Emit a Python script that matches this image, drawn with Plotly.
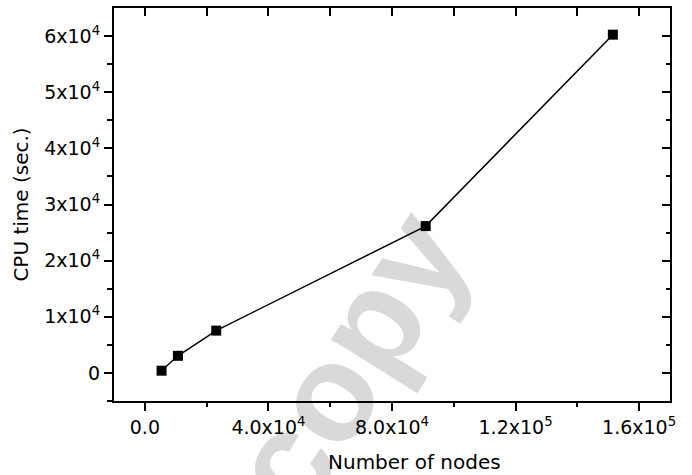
import numpy as np
import plotly.graph_objects as go

# Data
nodes = [5400, 10700, 23100, 90900, 151500]
cpu_time = [400, 3050, 7540, 26150, 60250]

x_tick_vals = [0, 40000, 80000, 120000, 160000]
x_tick_text = ["0.0", "4.0x10<sup>4</sup>", "8.0x10<sup>4</sup>", "1.2x10<sup>5</sup>", "1.6x10<sup>5</sup>"]
y_tick_vals = [0, 10000, 20000, 30000, 40000, 50000, 60000]
y_tick_text = ["0", "1x10<sup>4</sup>", "2x10<sup>4</sup>", "3x10<sup>4</sup>", "4x10<sup>4</sup>", "5x10<sup>4</sup>", "6x10<sup>4</sup>"]

x_title = "Number of nodes"
y_title = "CPU time (sec.)"
watermark = "copy"

x_range = [-10000, 170000]
y_range = [-5000, 65000]
x_minor = list(np.arange(20000, 170000, 40000))
y_minor = list(np.arange(-5000, 65000, 10000))

FONT = "DejaVu Sans, Arial, sans-serif"
WM_FONT = "Liberation Sans, Arial, sans-serif"

fig = go.Figure()
fig.add_trace(go.Scatter(
    x=nodes, y=cpu_time, mode="lines+markers",
    line=dict(color="black", width=1.5),
    marker=dict(symbol="square", size=10, color="black"),
    showlegend=False, hoverinfo="skip",
))
# invisible traces for mirrored inner ticks
fig.add_trace(go.Scatter(x=[None], y=[None], xaxis="x2", yaxis="y", showlegend=False))
fig.add_trace(go.Scatter(x=[None], y=[None], xaxis="x", yaxis="y2", showlegend=False))

fig.update_layout(
    width=692, height=475,
    margin=dict(l=114, r=22, t=8, b=74),
    paper_bgcolor="white", plot_bgcolor="rgba(0,0,0,0)",
    font=dict(family=FONT, size=19, color="black"),
    xaxis=dict(
        range=x_range, tickmode="array", tickvals=x_tick_vals, ticktext=x_tick_text,
        ticks="outside", ticklen=8, tickwidth=1.5, tickcolor="black",
        minor=dict(tickvals=x_minor, ticks="outside", ticklen=4, tickwidth=1.5, tickcolor="black"),
        showline=True, linecolor="black", linewidth=2, mirror=True,
        showgrid=False, zeroline=False, automargin=False,
        tickfont=dict(size=19),
    ),
    xaxis2=dict(
        range=x_range, overlaying="x", side="top", anchor="y",
        tickmode="array", tickvals=x_tick_vals, showticklabels=False,
        ticks="inside", ticklen=8, tickwidth=1.5, tickcolor="black",
        minor=dict(tickvals=x_minor, ticks="inside", ticklen=8, tickwidth=1.5, tickcolor="black"),
        showline=False, showgrid=False, zeroline=False, automargin=False,
    ),
    yaxis=dict(
        range=y_range, tickmode="array", tickvals=y_tick_vals, ticktext=y_tick_text,
        ticks="outside", ticklen=8, tickwidth=1.5, tickcolor="black",
        minor=dict(tickvals=y_minor, ticks="outside", ticklen=5, tickwidth=1.5, tickcolor="black"),
        showline=True, linecolor="black", linewidth=2, mirror=True,
        showgrid=False, zeroline=False, automargin=False,
        title=dict(text=y_title, font=dict(size=20), standoff=10),
        tickfont=dict(size=19),
    ),
    yaxis2=dict(
        range=y_range, overlaying="y", side="right", anchor="x",
        tickmode="array", tickvals=y_tick_vals, showticklabels=False,
        ticks="inside", ticklen=8, tickwidth=1.5, tickcolor="black",
        minor=dict(tickvals=y_minor, ticks="inside", ticklen=4, tickwidth=1.5, tickcolor="black"),
        showline=False, showgrid=False, zeroline=False, automargin=False,
    ),
)

# x-axis title (sits right of centre in the reference)
fig.add_annotation(
    text=x_title, xref="paper", yref="paper", x=0.54, y=-0.155,
    xanchor="center", yanchor="middle", showarrow=False, font=dict(size=20),
)

# watermark behind the data
fig.add_shape(
    type="rect", xref="paper", yref="paper",
    x0=0.30, x1=0.50, y0=0.02, y1=0.22, layer="below",
    line=dict(width=0), fillcolor="rgba(0,0,0,0)",
    label=dict(text=watermark, textposition="middle center", textangle=-58,
               font=dict(family=WM_FONT, size=138, color="#d9d9d9", weight="bold")),
)

fig.write_html("out.html", post_script="document.body.style.margin='0px';",
               config={"displayModeBar": False})
